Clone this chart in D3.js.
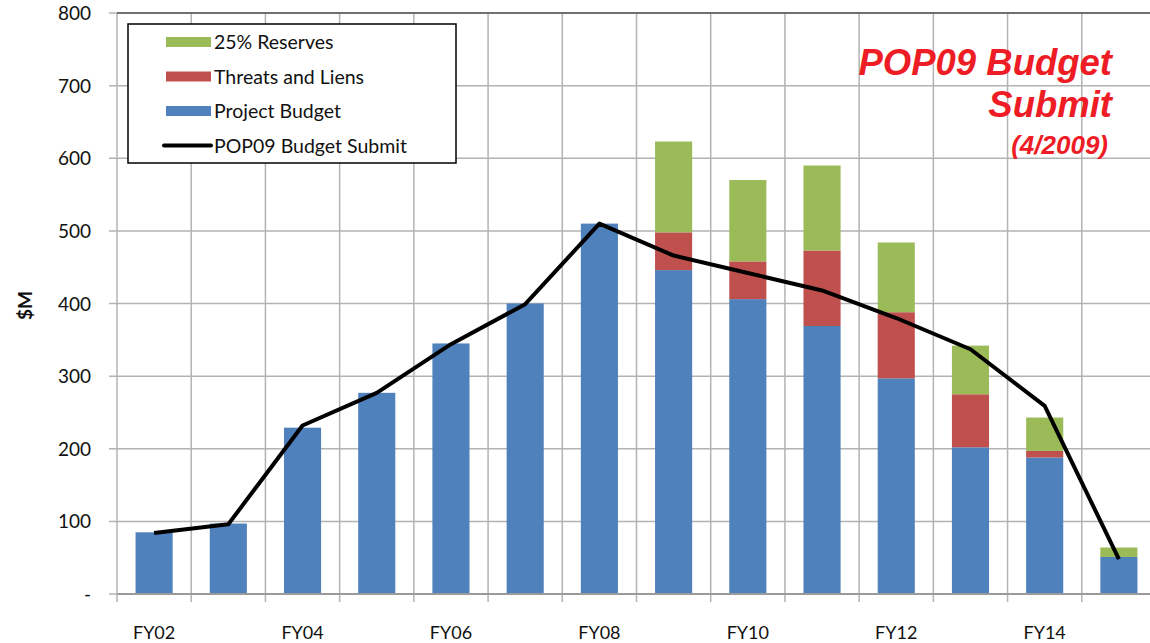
<!DOCTYPE html>
<html>
<head>
<meta charset="utf-8">
<script src="https://cdn.jsdelivr.net/npm/d3@7"></script>
<style>
  body { margin: 0; background: #fff; overflow: hidden; }
  svg { display: block; font-family: Lato, "Open Sans", sans-serif; }
</style>
</head>
<body>
<script>
// data ($M)
const years = ["FY02", "FY03", "FY04", "FY05", "FY06", "FY07", "FY08", "FY09", "FY10", "FY11", "FY12", "FY13", "FY14", "FY15"]
const projectBudget = [85, 97, 229, 277, 345, 400, 510, 446, 406, 369, 297, 202, 188, 51]
const threatsLiens = [0, 0, 0, 0, 0, 0, 0, 52, 52, 104, 91, 73, 9, 0]
const reserves = [0, 0, 0, 0, 0, 0, 0, 125, 112, 117, 96, 67, 46, 13]
const pop09Submit = [84, 96, 232, 277, 344, 399, 510, 466, 442, 418, 380, 337, 259, 48]
const yTicks = [0, 100, 200, 300, 400, 500, 600, 700, 800]
const seriesNames = ["Project Budget", "Threats and Liens", "25% Reserves"]
const colors = ["#4f81bd", "#c0504d", "#9bbb59"]

const width = 1150
const height = 643
const margin = { left: 117, top: 13 }
const plotW = 1039
const plotH = 581

const svg = d3.select("body")
    .append("svg")
    .attr("width", width)
    .attr("height", height)

const x = d3.scaleBand()
    .domain(years)
    .range([margin.left, margin.left + plotW])
    .padding(0)

const y = d3.scaleLinear()
    .domain([0, 800])
    .range([margin.top + plotH, margin.top])

// grid
svg.append("g")
    .selectAll("line")
    .data(yTicks)
    .enter().append("line")
    .attr("x1", margin.left - 8)
    .attr("x2", margin.left + plotW)
    .attr("y1", d => y(d))
    .attr("y2", d => y(d))
    .attr("stroke", "#b3b3b3")
    .attr("stroke-width", 1.5)

svg.append("g")
    .selectAll("line")
    .data(years)
    .enter().append("line")
    .attr("x1", d => x(d))
    .attr("x2", d => x(d))
    .attr("y1", margin.top)
    .attr("y2", y(0) + 8)
    .attr("stroke", "#b3b3b3")
    .attr("stroke-width", 1.5)

// top border
svg.append("line")
    .attr("x1", margin.left)
    .attr("x2", margin.left + plotW)
    .attr("y1", margin.top)
    .attr("y2", margin.top)
    .attr("stroke", "#555")
    .attr("stroke-width", 1.5)

// stacked bars
const table = years.map((yr, i) => ({
    year: yr,
    "Project Budget": projectBudget[i],
    "Threats and Liens": threatsLiens[i],
    "25% Reserves": reserves[i]
}))
const stacked = d3.stack().keys(seriesNames)(table)
const bw = x.bandwidth()

svg.append("g")
    .selectAll("g")
    .data(stacked)
    .enter().append("g")
    .attr("fill", (d, i) => colors[i])
    .selectAll("rect")
    .data(d => d.filter(s => s[1] > s[0]))
    .enter().append("rect")
    .attr("x", d => x(d.data.year) + bw * 0.25)
    .attr("width", bw * 0.5)
    .attr("y", d => y(d[1]))
    .attr("height", d => y(d[0]) - y(d[1]))

// bottom axis line
svg.append("line")
    .attr("x1", margin.left)
    .attr("x2", margin.left + plotW)
    .attr("y1", y(0))
    .attr("y2", y(0))
    .attr("stroke", "#9a9a9a")
    .attr("stroke-width", 2)

// POP09 line
const line = d3.line()
    .x((d, i) => x(years[i]) + bw / 2)
    .y(d => y(d))

svg.append("path")
    .datum(pop09Submit)
    .attr("d", line)
    .attr("fill", "none")
    .attr("stroke", "#000")
    .attr("stroke-width", 4)
    .attr("stroke-linejoin", "round")

// y labels
svg.append("g")
    .selectAll("text")
    .data(yTicks)
    .enter().append("text")
    .attr("x", 91)
    .attr("y", d => y(d) + 7)
    .attr("text-anchor", "end")
    .attr("font-size", 19)
    .attr("fill", "#111")
    .text(d => d === 0 ? "-" : d)

svg.append("text")
    .attr("transform", `translate(32, ${y(400) + 2}) rotate(-90)`)
    .attr("text-anchor", "middle")
    .attr("font-size", 19)
    .attr("font-weight", "bold")
    .attr("fill", "#111")
    .text("$M")

// x labels (every other year)
svg.append("g")
    .selectAll("text")
    .data(years.filter((d, i) => i % 2 === 0))
    .enter().append("text")
    .attr("x", d => x(d) + bw / 2)
    .attr("y", 639)
    .attr("text-anchor", "middle")
    .attr("font-size", 18)
    .attr("fill", "#111")
    .text(d => d)

// legend
const legend = svg.append("g")
legend.append("rect")
    .attr("x", 128)
    .attr("y", 24)
    .attr("width", 328)
    .attr("height", 139)
    .attr("fill", "#fff")
    .attr("stroke", "#000")
    .attr("stroke-width", 1.5)

const legendItems = [
    { name: "25% Reserves", color: colors[2], type: "rect" },
    { name: "Threats and Liens", color: colors[1], type: "rect" },
    { name: "Project Budget", color: colors[0], type: "rect" },
    { name: "POP09 Budget Submit", color: "#000", type: "line" }
]

const li = legend.selectAll(".legend-item")
    .data(legendItems)
    .enter().append("g")
    .attr("class", "legend-item")
    .attr("transform", (d, i) => `translate(0, ${42 + i * 34.5})`)

li.filter(d => d.type === "rect").append("rect")
    .attr("x", 166)
    .attr("y", -5)
    .attr("width", 45)
    .attr("height", 10)
    .attr("fill", d => d.color)

li.filter(d => d.type === "line").append("line")
    .attr("x1", 164)
    .attr("x2", 211)
    .attr("y1", 0)
    .attr("y2", 0)
    .attr("stroke", "#000")
    .attr("stroke-width", 4)
    .attr("stroke-linecap", "round")

li.append("text")
    .attr("x", 214)
    .attr("y", 7)
    .attr("font-size", 19.5)
    .attr("fill", "#111")
    .text(d => d.name)

// title
const title = svg.append("g")
    .attr("font-family", "Liberation Sans, Arial, sans-serif")
    .attr("font-weight", "bold")
    .attr("font-style", "italic")
    .attr("fill", "#ee1c25")
    .attr("text-anchor", "end")

title.append("text").attr("x", 1112).attr("y", 75).attr("font-size", 36.5).text("POP09 Budget")
title.append("text").attr("x", 1112).attr("y", 117).attr("font-size", 36.5).text("Submit")
title.append("text").attr("x", 1108).attr("y", 154).attr("font-size", 26).text("(4/2009)")
</script>
</body>
</html>
